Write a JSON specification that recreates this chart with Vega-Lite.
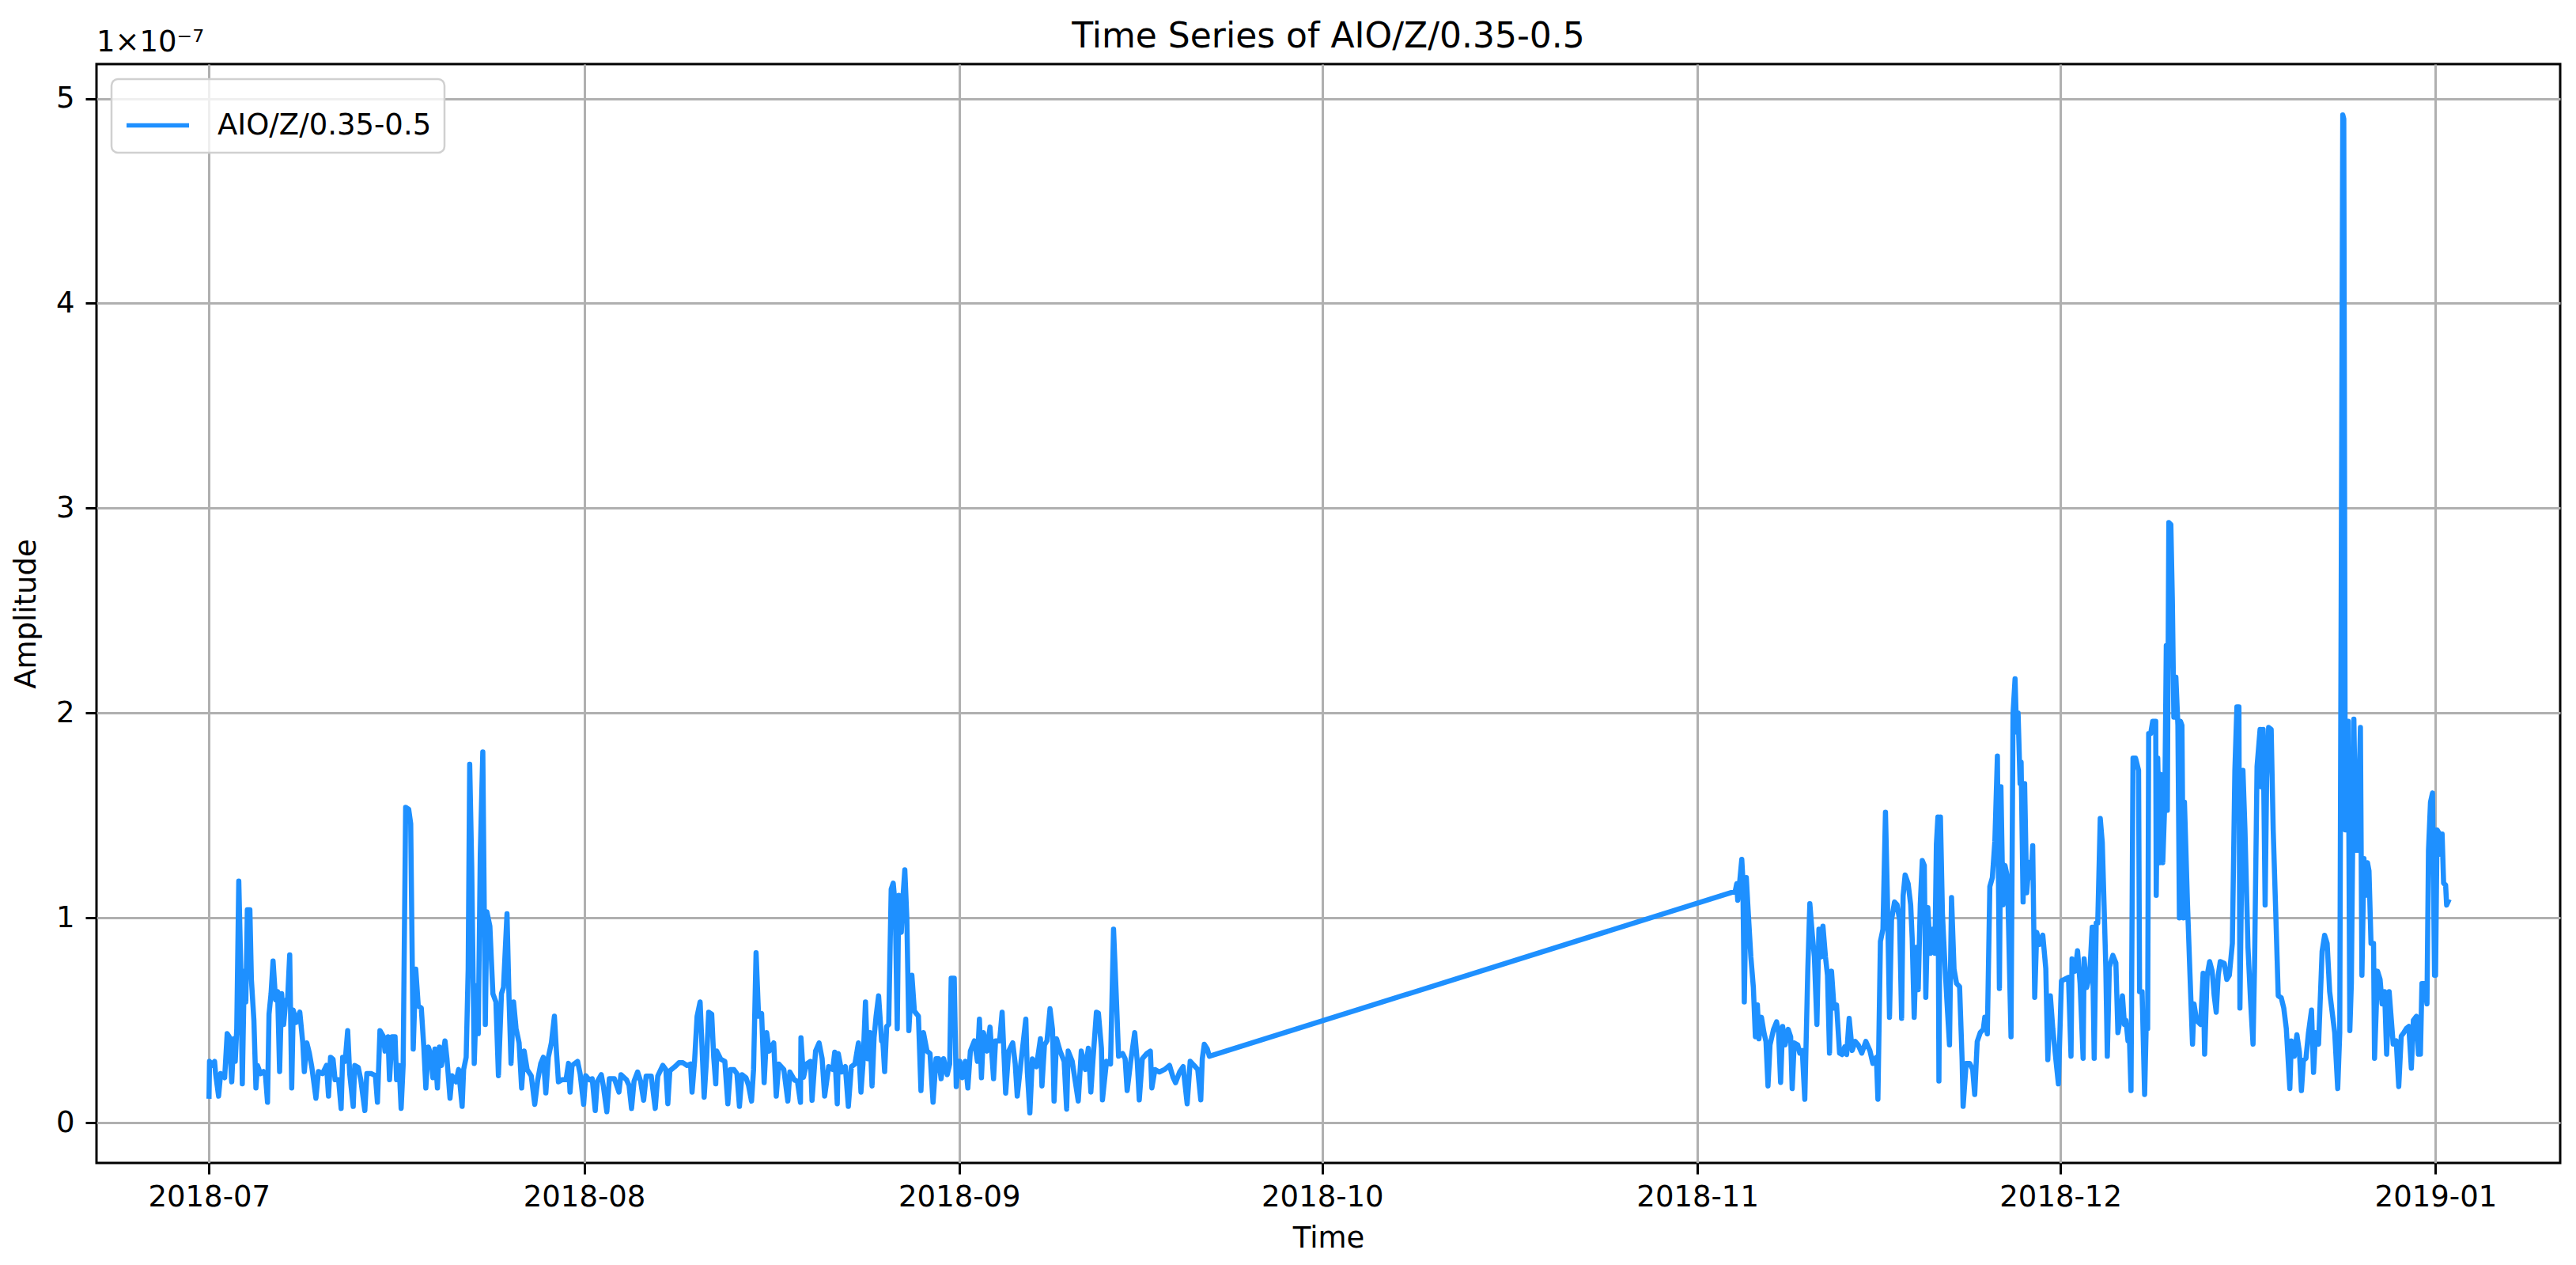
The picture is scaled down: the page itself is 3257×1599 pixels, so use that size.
{
  "$schema": "https://vega.github.io/schema/vega-lite/v6.json",
  "width": 3115,
  "height": 1389,
  "autosize": {"type": "none"},
  "padding": {"left": 122, "top": 81, "right": 20, "bottom": 129},
  "background": "white",
  "title": {"text": "Time Series of AIO/Z/0.35-0.5", "fontSize": 44, "fontWeight": "normal", "font": "DejaVu Sans", "color": "black", "anchor": "middle", "frame": "group", "baseline": "alphabetic", "offset": -69},
  "datasets": {
    "series": [
      {"time":"2018-07-01T00:00","amp":0.13},{"time":"2018-07-01T01:00","amp":0.30},{"time":"2018-07-01T05:00","amp":0.28},{"time":"2018-07-01T11:00","amp":0.30},{"time":"2018-07-01T13:00","amp":0.24},{"time":"2018-07-01T19:00","amp":0.13},{"time":"2018-07-01T23:00","amp":0.24},{"time":"2018-07-02T07:00","amp":0.22},{"time":"2018-07-02T12:00","amp":0.435},{"time":"2018-07-02T16:00","amp":0.42},{"time":"2018-07-02T21:00","amp":0.20},
      {"time":"2018-07-03T01:00","amp":0.41},{"time":"2018-07-03T04:00","amp":0.30},{"time":"2018-07-03T07:00","amp":0.46},{"time":"2018-07-03T11:00","amp":1.18},{"time":"2018-07-03T15:00","amp":0.75},{"time":"2018-07-03T18:00","amp":0.19},{"time":"2018-07-03T22:00","amp":0.74},{"time":"2018-07-04T01:00","amp":0.59},{"time":"2018-07-04T04:00","amp":1.04},{"time":"2018-07-04T09:00","amp":1.04},{"time":"2018-07-04T12:00","amp":0.70},{"time":"2018-07-04T17:00","amp":0.50},{"time":"2018-07-04T21:00","amp":0.17},
      {"time":"2018-07-05T00:00","amp":0.28},{"time":"2018-07-05T06:00","amp":0.24},{"time":"2018-07-05T12:00","amp":0.25},{"time":"2018-07-05T16:00","amp":0.23},{"time":"2018-07-05T20:00","amp":0.10},{"time":"2018-07-05T23:00","amp":0.53},{"time":"2018-07-06T03:00","amp":0.63},{"time":"2018-07-06T07:00","amp":0.79},{"time":"2018-07-06T12:00","amp":0.60},{"time":"2018-07-06T16:00","amp":0.64},{"time":"2018-07-06T20:00","amp":0.25},
      {"time":"2018-07-07T00:00","amp":0.63},{"time":"2018-07-07T04:00","amp":0.48},{"time":"2018-07-07T08:00","amp":0.59},{"time":"2018-07-07T12:00","amp":0.61},{"time":"2018-07-07T16:00","amp":0.82},{"time":"2018-07-07T20:00","amp":0.17},{"time":"2018-07-07T23:00","amp":0.55},{"time":"2018-07-08T05:00","amp":0.49},{"time":"2018-07-08T12:00","amp":0.54},{"time":"2018-07-08T18:00","amp":0.39},{"time":"2018-07-08T21:00","amp":0.25},
      {"time":"2018-07-09T02:00","amp":0.39},{"time":"2018-07-09T07:00","amp":0.34},{"time":"2018-07-09T12:00","amp":0.27},{"time":"2018-07-09T20:00","amp":0.12},{"time":"2018-07-10T01:00","amp":0.25},{"time":"2018-07-10T09:00","amp":0.24},{"time":"2018-07-10T17:00","amp":0.28},{"time":"2018-07-10T21:00","amp":0.13},{"time":"2018-07-11T01:00","amp":0.32},{"time":"2018-07-11T06:00","amp":0.31},{"time":"2018-07-11T10:00","amp":0.21},{"time":"2018-07-11T17:00","amp":0.21},{"time":"2018-07-11T22:00","amp":0.07},
      {"time":"2018-07-12T01:00","amp":0.32},{"time":"2018-07-12T06:00","amp":0.30},{"time":"2018-07-12T11:00","amp":0.45},{"time":"2018-07-12T15:00","amp":0.24},{"time":"2018-07-12T22:00","amp":0.08},{"time":"2018-07-13T01:00","amp":0.28},{"time":"2018-07-13T08:00","amp":0.27},{"time":"2018-07-13T13:00","amp":0.21},{"time":"2018-07-13T21:00","amp":0.06},{"time":"2018-07-14T01:00","amp":0.24},{"time":"2018-07-14T10:00","amp":0.24},{"time":"2018-07-14T18:00","amp":0.23},{"time":"2018-07-14T22:00","amp":0.10},
      {"time":"2018-07-15T03:00","amp":0.45},{"time":"2018-07-15T10:00","amp":0.42},{"time":"2018-07-15T13:00","amp":0.35},{"time":"2018-07-15T19:00","amp":0.42},{"time":"2018-07-15T22:00","amp":0.21},{"time":"2018-07-16T03:00","amp":0.42},{"time":"2018-07-16T09:00","amp":0.42},{"time":"2018-07-16T12:00","amp":0.21},{"time":"2018-07-16T17:00","amp":0.28},{"time":"2018-07-16T21:00","amp":0.07},
      {"time":"2018-07-17T01:00","amp":0.28},{"time":"2018-07-17T06:00","amp":1.54},{"time":"2018-07-17T12:00","amp":1.53},{"time":"2018-07-17T16:00","amp":1.46},{"time":"2018-07-17T21:00","amp":0.36},{"time":"2018-07-18T02:00","amp":0.75},{"time":"2018-07-18T07:00","amp":0.57},{"time":"2018-07-18T13:00","amp":0.56},{"time":"2018-07-18T18:00","amp":0.37},{"time":"2018-07-18T22:00","amp":0.17},
      {"time":"2018-07-19T03:00","amp":0.37},{"time":"2018-07-19T08:00","amp":0.33},{"time":"2018-07-19T12:00","amp":0.22},{"time":"2018-07-19T16:00","amp":0.36},{"time":"2018-07-19T21:00","amp":0.17},{"time":"2018-07-20T01:00","amp":0.37},{"time":"2018-07-20T05:00","amp":0.28},{"time":"2018-07-20T12:00","amp":0.40},{"time":"2018-07-20T16:00","amp":0.31},{"time":"2018-07-20T22:00","amp":0.12},
      {"time":"2018-07-21T02:00","amp":0.23},{"time":"2018-07-21T10:00","amp":0.20},{"time":"2018-07-21T15:00","amp":0.26},{"time":"2018-07-21T22:00","amp":0.08},{"time":"2018-07-22T01:00","amp":0.26},{"time":"2018-07-22T06:00","amp":0.32},{"time":"2018-07-22T10:00","amp":0.75},{"time":"2018-07-22T13:00","amp":1.75},{"time":"2018-07-22T17:00","amp":1.25},{"time":"2018-07-22T22:00","amp":0.29},
      {"time":"2018-07-23T03:00","amp":0.67},{"time":"2018-07-23T06:00","amp":0.435},{"time":"2018-07-23T10:00","amp":1.31},{"time":"2018-07-23T15:00","amp":1.81},{"time":"2018-07-23T20:00","amp":0.48},{"time":"2018-07-23T23:00","amp":1.03},{"time":"2018-07-24T05:00","amp":0.96},{"time":"2018-07-24T11:00","amp":0.63},{"time":"2018-07-24T17:00","amp":0.59},{"time":"2018-07-24T22:00","amp":0.23},
      {"time":"2018-07-25T04:00","amp":0.63},{"time":"2018-07-25T08:00","amp":0.66},{"time":"2018-07-25T15:00","amp":1.02},{"time":"2018-07-25T19:00","amp":0.61},{"time":"2018-07-25T23:00","amp":0.29},{"time":"2018-07-26T04:00","amp":0.59},{"time":"2018-07-26T09:00","amp":0.46},{"time":"2018-07-26T15:00","amp":0.39},{"time":"2018-07-26T20:00","amp":0.17},
      {"time":"2018-07-27T01:00","amp":0.35},{"time":"2018-07-27T07:00","amp":0.26},{"time":"2018-07-27T15:00","amp":0.23},{"time":"2018-07-27T22:00","amp":0.09},{"time":"2018-07-28T04:00","amp":0.21},{"time":"2018-07-28T10:00","amp":0.29},{"time":"2018-07-28T15:00","amp":0.32},{"time":"2018-07-28T20:00","amp":0.146},
      {"time":"2018-07-29T01:00","amp":0.32},{"time":"2018-07-29T07:00","amp":0.39},{"time":"2018-07-29T13:00","amp":0.52},{"time":"2018-07-29T17:00","amp":0.35},{"time":"2018-07-29T21:00","amp":0.20},{"time":"2018-07-30T04:00","amp":0.21},{"time":"2018-07-30T12:00","amp":0.21},{"time":"2018-07-30T17:00","amp":0.29},{"time":"2018-07-30T20:00","amp":0.15},
      {"time":"2018-07-31T00:00","amp":0.28},{"time":"2018-07-31T11:00","amp":0.30},{"time":"2018-07-31T16:00","amp":0.24},{"time":"2018-07-31T23:00","amp":0.09},{"time":"2018-08-01T03:00","amp":0.23},
      {"time":"2018-08-01T10:00","amp":0.21},{"time":"2018-08-01T16:00","amp":0.215},{"time":"2018-08-01T22:00","amp":0.06},{"time":"2018-08-02T02:00","amp":0.20},{"time":"2018-08-02T10:00","amp":0.235},{"time":"2018-08-02T14:00","amp":0.18},{"time":"2018-08-02T21:00","amp":0.054},{"time":"2018-08-03T02:00","amp":0.215},{"time":"2018-08-03T12:00","amp":0.215},{"time":"2018-08-03T21:00","amp":0.15},
      {"time":"2018-08-04T01:00","amp":0.235},{"time":"2018-08-04T12:00","amp":0.21},{"time":"2018-08-04T17:00","amp":0.183},{"time":"2018-08-04T22:00","amp":0.07},{"time":"2018-08-05T03:00","amp":0.203},{"time":"2018-08-05T10:00","amp":0.248},{"time":"2018-08-05T16:00","amp":0.203},{"time":"2018-08-05T22:00","amp":0.11},
      {"time":"2018-08-06T03:00","amp":0.228},{"time":"2018-08-06T13:00","amp":0.228},{"time":"2018-08-06T21:00","amp":0.07},{"time":"2018-08-07T02:00","amp":0.228},{"time":"2018-08-07T12:00","amp":0.28},{"time":"2018-08-07T18:00","amp":0.26},{"time":"2018-08-07T22:00","amp":0.093},
      {"time":"2018-08-08T02:00","amp":0.254},{"time":"2018-08-08T12:00","amp":0.274},{"time":"2018-08-08T20:00","amp":0.293},{"time":"2018-08-09T04:00","amp":0.293},{"time":"2018-08-09T12:00","amp":0.28},{"time":"2018-08-09T19:00","amp":0.287},{"time":"2018-08-09T22:00","amp":0.15},
      {"time":"2018-08-10T03:00","amp":0.30},{"time":"2018-08-10T08:00","amp":0.52},{"time":"2018-08-10T14:00","amp":0.59},{"time":"2018-08-10T19:00","amp":0.30},{"time":"2018-08-10T22:00","amp":0.125},{"time":"2018-08-11T03:00","amp":0.32},{"time":"2018-08-11T07:00","amp":0.54},{"time":"2018-08-11T13:00","amp":0.53},{"time":"2018-08-11T17:00","amp":0.32},{"time":"2018-08-11T21:00","amp":0.19},{"time":"2018-08-11T23:00","amp":0.35},
      {"time":"2018-08-12T07:00","amp":0.31},{"time":"2018-08-12T15:00","amp":0.30},{"time":"2018-08-12T21:00","amp":0.093},{"time":"2018-08-13T02:00","amp":0.26},{"time":"2018-08-13T09:00","amp":0.26},{"time":"2018-08-13T15:00","amp":0.24},{"time":"2018-08-13T20:00","amp":0.08},
      {"time":"2018-08-14T01:00","amp":0.235},{"time":"2018-08-14T09:00","amp":0.22},{"time":"2018-08-14T14:00","amp":0.183},{"time":"2018-08-14T20:00","amp":0.106},{"time":"2018-08-15T00:00","amp":0.26},{"time":"2018-08-15T05:00","amp":0.83},{"time":"2018-08-15T10:00","amp":0.52},{"time":"2018-08-15T16:00","amp":0.533},{"time":"2018-08-15T21:00","amp":0.196},
      {"time":"2018-08-16T02:00","amp":0.44},{"time":"2018-08-16T07:00","amp":0.35},{"time":"2018-08-16T16:00","amp":0.39},{"time":"2018-08-16T21:00","amp":0.13},{"time":"2018-08-17T02:00","amp":0.287},{"time":"2018-08-17T12:00","amp":0.26},{"time":"2018-08-17T20:00","amp":0.106},
      {"time":"2018-08-18T00:00","amp":0.248},{"time":"2018-08-18T09:00","amp":0.209},{"time":"2018-08-18T15:00","amp":0.203},{"time":"2018-08-18T21:00","amp":0.10},{"time":"2018-08-18T22:00","amp":0.415},{"time":"2018-08-19T03:00","amp":0.222},{"time":"2018-08-19T09:00","amp":0.287},{"time":"2018-08-19T17:00","amp":0.30},{"time":"2018-08-19T20:00","amp":0.11},
      {"time":"2018-08-20T03:00","amp":0.35},{"time":"2018-08-20T10:00","amp":0.39},{"time":"2018-08-20T16:00","amp":0.313},{"time":"2018-08-20T21:00","amp":0.13},{"time":"2018-08-21T05:00","amp":0.274},{"time":"2018-08-21T13:00","amp":0.26},{"time":"2018-08-21T17:00","amp":0.345},{"time":"2018-08-21T22:00","amp":0.093},
      {"time":"2018-08-22T00:00","amp":0.338},{"time":"2018-08-22T07:00","amp":0.248},{"time":"2018-08-22T14:00","amp":0.274},{"time":"2018-08-22T20:00","amp":0.08},{"time":"2018-08-23T02:00","amp":0.274},{"time":"2018-08-23T09:00","amp":0.287},{"time":"2018-08-23T16:00","amp":0.39},{"time":"2018-08-23T21:00","amp":0.15},
      {"time":"2018-08-24T01:00","amp":0.287},{"time":"2018-08-24T06:00","amp":0.59},{"time":"2018-08-24T10:00","amp":0.313},{"time":"2018-08-24T15:00","amp":0.44},{"time":"2018-08-24T19:00","amp":0.18},{"time":"2018-08-24T23:00","amp":0.415},
      {"time":"2018-08-25T03:00","amp":0.52},{"time":"2018-08-25T08:00","amp":0.62},{"time":"2018-08-25T14:00","amp":0.40},{"time":"2018-08-25T16:00","amp":0.415},{"time":"2018-08-25T20:00","amp":0.25},
      {"time":"2018-08-26T00:00","amp":0.47},{"time":"2018-08-26T04:00","amp":0.48},{"time":"2018-08-26T09:00","amp":1.14},{"time":"2018-08-26T13:00","amp":1.17},{"time":"2018-08-26T17:00","amp":1.06},{"time":"2018-08-26T21:00","amp":0.46},
      {"time":"2018-08-27T00:00","amp":1.11},{"time":"2018-08-27T05:00","amp":0.93},{"time":"2018-08-27T09:00","amp":1.125},{"time":"2018-08-27T12:00","amp":1.235},{"time":"2018-08-27T16:00","amp":1.0},{"time":"2018-08-27T20:00","amp":0.45},
      {"time":"2018-08-28T02:00","amp":0.72},{"time":"2018-08-28T07:00","amp":0.545},{"time":"2018-08-28T15:00","amp":0.52},{"time":"2018-08-28T20:00","amp":0.157},{"time":"2018-08-29T01:00","amp":0.44},{"time":"2018-08-29T08:00","amp":0.35},{"time":"2018-08-29T14:00","amp":0.338},{"time":"2018-08-29T20:00","amp":0.10},
      {"time":"2018-08-30T02:00","amp":0.313},{"time":"2018-08-30T07:00","amp":0.313},{"time":"2018-08-30T12:00","amp":0.215},{"time":"2018-08-30T17:00","amp":0.313},{"time":"2018-08-31T00:00","amp":0.235},{"time":"2018-08-31T05:00","amp":0.287},{"time":"2018-08-31T08:00","amp":0.706},{"time":"2018-08-31T14:00","amp":0.706},{"time":"2018-08-31T18:00","amp":0.177},{"time":"2018-08-31T23:00","amp":0.30},
      {"time":"2018-09-01T01:00","amp":0.30},{"time":"2018-09-01T06:00","amp":0.22},{"time":"2018-09-01T12:00","amp":0.30},{"time":"2018-09-01T17:00","amp":0.17},{"time":"2018-09-01T22:00","amp":0.35},{"time":"2018-09-02T06:00","amp":0.40},{"time":"2018-09-02T12:00","amp":0.30},{"time":"2018-09-02T16:00","amp":0.506},{"time":"2018-09-02T20:00","amp":0.22},
      {"time":"2018-09-03T00:00","amp":0.44},{"time":"2018-09-03T07:00","amp":0.35},{"time":"2018-09-03T13:00","amp":0.467},{"time":"2018-09-03T20:00","amp":0.215},{"time":"2018-09-04T00:00","amp":0.40},{"time":"2018-09-04T08:00","amp":0.40},{"time":"2018-09-04T13:00","amp":0.54},{"time":"2018-09-04T20:00","amp":0.145},
      {"time":"2018-09-05T02:00","amp":0.35},{"time":"2018-09-05T10:00","amp":0.39},{"time":"2018-09-05T15:00","amp":0.287},{"time":"2018-09-05T19:00","amp":0.13},{"time":"2018-09-06T02:00","amp":0.287},{"time":"2018-09-06T12:00","amp":0.506},{"time":"2018-09-06T15:00","amp":0.248},{"time":"2018-09-06T20:00","amp":0.048},
      {"time":"2018-09-07T01:00","amp":0.312},{"time":"2018-09-07T09:00","amp":0.274},{"time":"2018-09-07T17:00","amp":0.41},{"time":"2018-09-07T20:00","amp":0.18},{"time":"2018-09-08T01:00","amp":0.38},{"time":"2018-09-08T06:00","amp":0.40},{"time":"2018-09-08T12:00","amp":0.557},{"time":"2018-09-08T17:00","amp":0.454},{"time":"2018-09-08T20:00","amp":0.106},
      {"time":"2018-09-09T01:00","amp":0.41},{"time":"2018-09-09T08:00","amp":0.35},{"time":"2018-09-09T16:00","amp":0.30},{"time":"2018-09-09T21:00","amp":0.067},{"time":"2018-09-10T00:00","amp":0.35},{"time":"2018-09-10T08:00","amp":0.30},{"time":"2018-09-10T20:00","amp":0.106},
      {"time":"2018-09-11T02:00","amp":0.35},{"time":"2018-09-11T10:00","amp":0.26},{"time":"2018-09-11T16:00","amp":0.364},{"time":"2018-09-11T21:00","amp":0.15},{"time":"2018-09-12T01:00","amp":0.30},{"time":"2018-09-12T08:00","amp":0.54},{"time":"2018-09-12T12:00","amp":0.535},{"time":"2018-09-12T18:00","amp":0.364},{"time":"2018-09-12T20:00","amp":0.112},
      {"time":"2018-09-13T04:00","amp":0.30},{"time":"2018-09-13T12:00","amp":0.287},{"time":"2018-09-13T18:00","amp":0.945},{"time":"2018-09-14T00:00","amp":0.583},{"time":"2018-09-14T04:00","amp":0.325},{"time":"2018-09-14T12:00","amp":0.338},{"time":"2018-09-14T17:00","amp":0.312},{"time":"2018-09-14T21:00","amp":0.157},
      {"time":"2018-09-15T04:00","amp":0.30},{"time":"2018-09-15T12:00","amp":0.44},{"time":"2018-09-15T17:00","amp":0.30},{"time":"2018-09-15T21:00","amp":0.112},{"time":"2018-09-16T03:00","amp":0.312},{"time":"2018-09-16T12:00","amp":0.338},{"time":"2018-09-16T19:00","amp":0.35},{"time":"2018-09-16T22:00","amp":0.17},
      {"time":"2018-09-17T04:00","amp":0.26},{"time":"2018-09-17T13:00","amp":0.248},{"time":"2018-09-17T23:00","amp":0.26},{"time":"2018-09-18T09:00","amp":0.28},{"time":"2018-09-18T16:00","amp":0.222},{"time":"2018-09-18T21:00","amp":0.196},
      {"time":"2018-09-19T05:00","amp":0.248},{"time":"2018-09-19T12:00","amp":0.274},{"time":"2018-09-19T20:00","amp":0.093},{"time":"2018-09-20T02:00","amp":0.30},{"time":"2018-09-20T07:00","amp":0.287},{"time":"2018-09-20T12:00","amp":0.274},{"time":"2018-09-20T17:00","amp":0.26},{"time":"2018-09-20T23:00","amp":0.112},
      {"time":"2018-09-21T02:00","amp":0.312},{"time":"2018-09-21T06:00","amp":0.383},{"time":"2018-09-21T12:00","amp":0.36},{"time":"2018-09-21T16:00","amp":0.325},
      {"time":"2018-11-04T03:00","amp":1.13},{"time":"2018-11-04T06:00","amp":1.167},{"time":"2018-11-04T08:00","amp":1.086},{"time":"2018-11-04T12:00","amp":1.18},{"time":"2018-11-04T16:00","amp":1.286},{"time":"2018-11-04T18:00","amp":1.197},{"time":"2018-11-04T21:00","amp":0.59},
      {"time":"2018-11-05T01:00","amp":1.197},{"time":"2018-11-05T05:00","amp":1.02},{"time":"2018-11-05T10:00","amp":0.81},{"time":"2018-11-05T15:00","amp":0.66},{"time":"2018-11-05T19:00","amp":0.42},{"time":"2018-11-05T23:00","amp":0.575},
      {"time":"2018-11-06T02:00","amp":0.41},{"time":"2018-11-06T07:00","amp":0.515},{"time":"2018-11-06T12:00","amp":0.44},{"time":"2018-11-06T16:00","amp":0.397},{"time":"2018-11-06T20:00","amp":0.18},{"time":"2018-11-07T00:00","amp":0.38},{"time":"2018-11-07T07:00","amp":0.456},{"time":"2018-11-07T13:00","amp":0.493},{"time":"2018-11-07T17:00","amp":0.44},{"time":"2018-11-07T21:00","amp":0.197},
      {"time":"2018-11-08T01:00","amp":0.47},{"time":"2018-11-08T06:00","amp":0.38},{"time":"2018-11-08T12:00","amp":0.456},{"time":"2018-11-08T17:00","amp":0.42},{"time":"2018-11-08T20:00","amp":0.167},{"time":"2018-11-09T00:00","amp":0.39},{"time":"2018-11-09T07:00","amp":0.38},{"time":"2018-11-09T11:00","amp":0.34},{"time":"2018-11-09T16:00","amp":0.353},{"time":"2018-11-09T21:00","amp":0.115},
      {"time":"2018-11-10T03:00","amp":0.75},{"time":"2018-11-10T07:00","amp":1.07},{"time":"2018-11-10T12:00","amp":0.915},{"time":"2018-11-10T16:00","amp":0.81},{"time":"2018-11-10T21:00","amp":0.48},{"time":"2018-11-11T01:00","amp":0.945},{"time":"2018-11-11T05:00","amp":0.81},{"time":"2018-11-11T09:00","amp":0.96},{"time":"2018-11-11T14:00","amp":0.81},{"time":"2018-11-11T18:00","amp":0.72},{"time":"2018-11-11T22:00","amp":0.34},
      {"time":"2018-11-12T02:00","amp":0.74},{"time":"2018-11-12T07:00","amp":0.56},{"time":"2018-11-12T12:00","amp":0.575},{"time":"2018-11-12T18:00","amp":0.34},{"time":"2018-11-12T23:00","amp":0.333},{"time":"2018-11-13T04:00","amp":0.37},{"time":"2018-11-13T08:00","amp":0.333},{"time":"2018-11-13T13:00","amp":0.51},{"time":"2018-11-13T19:00","amp":0.353},
      {"time":"2018-11-14T01:00","amp":0.397},{"time":"2018-11-14T07:00","amp":0.38},{"time":"2018-11-14T14:00","amp":0.34},{"time":"2018-11-14T22:00","amp":0.397},{"time":"2018-11-15T06:00","amp":0.353},{"time":"2018-11-15T12:00","amp":0.29},{"time":"2018-11-15T19:00","amp":0.32},{"time":"2018-11-15T22:00","amp":0.115},
      {"time":"2018-11-16T03:00","amp":0.886},{"time":"2018-11-16T08:00","amp":0.945},{"time":"2018-11-16T13:00","amp":1.516},{"time":"2018-11-16T17:00","amp":1.078},{"time":"2018-11-16T21:00","amp":0.515},{"time":"2018-11-17T01:00","amp":0.99},{"time":"2018-11-17T07:00","amp":1.078},{"time":"2018-11-17T12:00","amp":1.064},{"time":"2018-11-17T17:00","amp":0.99},{"time":"2018-11-17T21:00","amp":0.51},
      {"time":"2018-11-18T00:00","amp":1.108},{"time":"2018-11-18T04:00","amp":1.21},{"time":"2018-11-18T10:00","amp":1.167},{"time":"2018-11-18T15:00","amp":1.064},{"time":"2018-11-18T18:00","amp":0.90},{"time":"2018-11-18T22:00","amp":0.515},
      {"time":"2018-11-19T02:00","amp":0.856},{"time":"2018-11-19T06:00","amp":0.65},{"time":"2018-11-19T10:00","amp":1.064},{"time":"2018-11-19T14:00","amp":1.28},{"time":"2018-11-19T18:00","amp":1.256},{"time":"2018-11-19T21:00","amp":0.612},
      {"time":"2018-11-20T01:00","amp":1.05},{"time":"2018-11-20T06:00","amp":0.827},{"time":"2018-11-20T11:00","amp":0.945},{"time":"2018-11-20T15:00","amp":0.827},{"time":"2018-11-20T18:00","amp":1.36},{"time":"2018-11-20T21:00","amp":1.493},{"time":"2018-11-20T23:00","amp":0.204},
      {"time":"2018-11-21T02:00","amp":1.493},{"time":"2018-11-21T06:00","amp":1.02},{"time":"2018-11-21T11:00","amp":0.767},{"time":"2018-11-21T15:00","amp":0.59},{"time":"2018-11-21T20:00","amp":0.38},
      {"time":"2018-11-22T00:00","amp":1.10},{"time":"2018-11-22T05:00","amp":0.75},{"time":"2018-11-22T10:00","amp":0.68},{"time":"2018-11-22T16:00","amp":0.664},{"time":"2018-11-22T21:00","amp":0.308},{"time":"2018-11-22T23:00","amp":0.08},
      {"time":"2018-11-23T05:00","amp":0.29},{"time":"2018-11-23T12:00","amp":0.29},{"time":"2018-11-23T18:00","amp":0.26},{"time":"2018-11-23T22:00","amp":0.138},{"time":"2018-11-24T03:00","amp":0.397},{"time":"2018-11-24T09:00","amp":0.44},{"time":"2018-11-24T15:00","amp":0.456},{"time":"2018-11-24T18:00","amp":0.515},{"time":"2018-11-24T23:00","amp":0.434},
      {"time":"2018-11-25T04:00","amp":1.153},{"time":"2018-11-25T09:00","amp":1.197},{"time":"2018-11-25T14:00","amp":1.375},{"time":"2018-11-25T19:00","amp":1.79},{"time":"2018-11-25T23:00","amp":0.656},
      {"time":"2018-11-26T02:00","amp":1.64},{"time":"2018-11-26T06:00","amp":1.064},{"time":"2018-11-26T10:00","amp":1.256},{"time":"2018-11-26T15:00","amp":1.197},{"time":"2018-11-26T22:00","amp":0.42},
      {"time":"2018-11-27T02:00","amp":1.997},{"time":"2018-11-27T06:00","amp":2.167},{"time":"2018-11-27T09:00","amp":1.908},{"time":"2018-11-27T12:00","amp":2.0},{"time":"2018-11-27T16:00","amp":1.656},{"time":"2018-11-27T18:00","amp":1.76},{"time":"2018-11-27T22:00","amp":1.078},
      {"time":"2018-11-28T01:00","amp":1.656},{"time":"2018-11-28T05:00","amp":1.123},{"time":"2018-11-28T10:00","amp":1.271},{"time":"2018-11-28T14:00","amp":1.197},{"time":"2018-11-28T17:00","amp":1.353},{"time":"2018-11-28T21:00","amp":0.612},
      {"time":"2018-11-29T01:00","amp":0.93},{"time":"2018-11-29T07:00","amp":0.871},{"time":"2018-11-29T13:00","amp":0.916},{"time":"2018-11-29T19:00","amp":0.753},{"time":"2018-11-29T23:00","amp":0.308},
      {"time":"2018-11-30T04:00","amp":0.62},{"time":"2018-11-30T09:00","amp":0.456},{"time":"2018-11-30T15:00","amp":0.308},{"time":"2018-11-30T20:00","amp":0.19},{"time":"2018-12-01T02:00","amp":0.693},
      {"time":"2018-12-01T08:00","amp":0.70},{"time":"2018-12-01T16:00","amp":0.71},{"time":"2018-12-01T21:00","amp":0.325},{"time":"2018-12-01T23:00","amp":0.80},{"time":"2018-12-02T05:00","amp":0.74},{"time":"2018-12-02T10:00","amp":0.84},{"time":"2018-12-02T15:00","amp":0.68},{"time":"2018-12-02T21:00","amp":0.315},{"time":"2018-12-02T23:00","amp":0.80},
      {"time":"2018-12-03T04:00","amp":0.66},{"time":"2018-12-03T10:00","amp":0.72},{"time":"2018-12-03T15:00","amp":0.955},{"time":"2018-12-03T19:00","amp":0.315},{"time":"2018-12-03T23:00","amp":0.975},
      {"time":"2018-12-04T02:00","amp":0.975},{"time":"2018-12-04T07:00","amp":1.486},{"time":"2018-12-04T11:00","amp":1.368},{"time":"2018-12-04T14:00","amp":1.11},{"time":"2018-12-04T18:00","amp":0.76},{"time":"2018-12-04T21:00","amp":0.325},
      {"time":"2018-12-05T01:00","amp":0.76},{"time":"2018-12-05T08:00","amp":0.817},{"time":"2018-12-05T14:00","amp":0.78},{"time":"2018-12-05T18:00","amp":0.44},{"time":"2018-12-05T22:00","amp":0.50},
      {"time":"2018-12-06T03:00","amp":0.62},{"time":"2018-12-06T07:00","amp":0.48},{"time":"2018-12-06T10:00","amp":0.50},{"time":"2018-12-06T14:00","amp":0.40},{"time":"2018-12-06T17:00","amp":0.40},{"time":"2018-12-06T20:00","amp":0.157},
      {"time":"2018-12-07T00:00","amp":1.78},{"time":"2018-12-07T05:00","amp":1.78},{"time":"2018-12-07T11:00","amp":1.72},{"time":"2018-12-07T13:00","amp":0.64},{"time":"2018-12-07T18:00","amp":0.64},{"time":"2018-12-07T23:00","amp":0.138},
      {"time":"2018-12-08T02:00","amp":0.46},{"time":"2018-12-08T05:00","amp":0.46},{"time":"2018-12-08T07:00","amp":1.90},{"time":"2018-12-08T11:00","amp":1.90},{"time":"2018-12-08T15:00","amp":1.96},{"time":"2018-12-08T21:00","amp":1.96},{"time":"2018-12-08T22:00","amp":1.11},
      {"time":"2018-12-09T01:00","amp":1.78},{"time":"2018-12-09T05:00","amp":1.27},{"time":"2018-12-09T07:00","amp":1.70},{"time":"2018-12-09T11:00","amp":1.27},{"time":"2018-12-09T15:00","amp":1.565},{"time":"2018-12-09T18:00","amp":2.33},{"time":"2018-12-09T20:00","amp":1.525},{"time":"2018-12-09T23:00","amp":2.93},
      {"time":"2018-12-10T03:00","amp":2.92},{"time":"2018-12-10T06:00","amp":2.55},{"time":"2018-12-10T09:00","amp":1.98},{"time":"2018-12-10T13:00","amp":2.175},{"time":"2018-12-10T17:00","amp":1.94},{"time":"2018-12-10T20:00","amp":1.0},{"time":"2018-12-10T22:00","amp":1.96},
      {"time":"2018-12-11T01:00","amp":1.94},{"time":"2018-12-11T04:00","amp":1.0},{"time":"2018-12-11T06:00","amp":1.565},{"time":"2018-12-11T12:00","amp":1.07},{"time":"2018-12-11T17:00","amp":0.72},{"time":"2018-12-11T22:00","amp":0.384},
      {"time":"2018-12-12T01:00","amp":0.58},{"time":"2018-12-12T06:00","amp":0.50},{"time":"2018-12-12T14:00","amp":0.48},{"time":"2018-12-12T19:00","amp":0.73},{"time":"2018-12-12T22:00","amp":0.335},
      {"time":"2018-12-13T03:00","amp":0.72},{"time":"2018-12-13T08:00","amp":0.787},{"time":"2018-12-13T13:00","amp":0.74},{"time":"2018-12-13T17:00","amp":0.62},{"time":"2018-12-13T21:00","amp":0.54},
      {"time":"2018-12-14T01:00","amp":0.72},{"time":"2018-12-14T05:00","amp":0.787},{"time":"2018-12-14T13:00","amp":0.778},{"time":"2018-12-14T18:00","amp":0.70},{"time":"2018-12-14T23:00","amp":0.72},
      {"time":"2018-12-15T05:00","amp":0.876},{"time":"2018-12-15T10:00","amp":1.72},{"time":"2018-12-15T14:00","amp":2.03},{"time":"2018-12-15T18:00","amp":2.03},{"time":"2018-12-15T20:00","amp":0.56},
      {"time":"2018-12-16T02:00","amp":1.72},{"time":"2018-12-16T06:00","amp":1.43},{"time":"2018-12-16T12:00","amp":0.856},{"time":"2018-12-16T17:00","amp":0.60},{"time":"2018-12-16T22:00","amp":0.384},
      {"time":"2018-12-17T01:00","amp":0.76},{"time":"2018-12-17T06:00","amp":1.74},{"time":"2018-12-17T12:00","amp":1.92},{"time":"2018-12-17T15:00","amp":1.64},{"time":"2018-12-17T18:00","amp":1.92},{"time":"2018-12-17T22:00","amp":1.063},
      {"time":"2018-12-18T01:00","amp":1.68},{"time":"2018-12-18T05:00","amp":1.93},{"time":"2018-12-18T10:00","amp":1.92},{"time":"2018-12-18T14:00","amp":1.43},{"time":"2018-12-18T19:00","amp":1.03},
      {"time":"2018-12-19T00:00","amp":0.62},{"time":"2018-12-19T06:00","amp":0.61},{"time":"2018-12-19T11:00","amp":0.56},{"time":"2018-12-19T16:00","amp":0.46},{"time":"2018-12-19T23:00","amp":0.167},
      {"time":"2018-12-20T02:00","amp":0.40},{"time":"2018-12-20T08:00","amp":0.325},{"time":"2018-12-20T13:00","amp":0.43},{"time":"2018-12-20T18:00","amp":0.345},{"time":"2018-12-20T22:00","amp":0.157},
      {"time":"2018-12-21T02:00","amp":0.305},{"time":"2018-12-21T07:00","amp":0.315},{"time":"2018-12-21T12:00","amp":0.44},{"time":"2018-12-21T18:00","amp":0.55},{"time":"2018-12-21T22:00","amp":0.246},
      {"time":"2018-12-22T02:00","amp":0.44},{"time":"2018-12-22T08:00","amp":0.384},{"time":"2018-12-22T15:00","amp":0.837},{"time":"2018-12-22T20:00","amp":0.915},
      {"time":"2018-12-23T01:00","amp":0.876},{"time":"2018-12-23T06:00","amp":0.64},{"time":"2018-12-23T12:00","amp":0.52},{"time":"2018-12-23T16:00","amp":0.44},{"time":"2018-12-23T22:00","amp":0.167},
      {"time":"2018-12-24T02:00","amp":0.44},{"time":"2018-12-24T08:00","amp":4.92},{"time":"2018-12-24T10:00","amp":4.90},{"time":"2018-12-24T13:00","amp":1.43},{"time":"2018-12-24T17:00","amp":1.96},{"time":"2018-12-24T19:00","amp":1.96},{"time":"2018-12-24T22:00","amp":0.45},
      {"time":"2018-12-25T01:00","amp":0.68},{"time":"2018-12-25T06:00","amp":1.97},{"time":"2018-12-25T10:00","amp":1.33},{"time":"2018-12-25T13:00","amp":1.33},{"time":"2018-12-25T19:00","amp":1.93},{"time":"2018-12-25T22:00","amp":0.72},
      {"time":"2018-12-26T02:00","amp":1.29},{"time":"2018-12-26T05:00","amp":1.11},{"time":"2018-12-26T09:00","amp":1.27},{"time":"2018-12-26T12:00","amp":1.23},{"time":"2018-12-26T16:00","amp":0.876},{"time":"2018-12-26T21:00","amp":0.876},{"time":"2018-12-26T23:00","amp":0.315},
      {"time":"2018-12-27T05:00","amp":0.74},{"time":"2018-12-27T10:00","amp":0.70},{"time":"2018-12-27T14:00","amp":0.58},{"time":"2018-12-27T19:00","amp":0.64},{"time":"2018-12-27T23:00","amp":0.335},
      {"time":"2018-12-28T04:00","amp":0.64},{"time":"2018-12-28T12:00","amp":0.384},{"time":"2018-12-28T18:00","amp":0.40},{"time":"2018-12-28T23:00","amp":0.177},
      {"time":"2018-12-29T04:00","amp":0.423},{"time":"2018-12-29T09:00","amp":0.44},{"time":"2018-12-29T14:00","amp":0.46},{"time":"2018-12-29T19:00","amp":0.47},
      {"time":"2018-12-30T00:00","amp":0.266},{"time":"2018-12-30T04:00","amp":0.50},{"time":"2018-12-30T10:00","amp":0.52},{"time":"2018-12-30T14:00","amp":0.335},{"time":"2018-12-30T18:00","amp":0.335},{"time":"2018-12-30T21:00","amp":0.68},
      {"time":"2018-12-31T02:00","amp":0.68},{"time":"2018-12-31T07:00","amp":0.58},{"time":"2018-12-31T10:00","amp":1.33},{"time":"2018-12-31T14:00","amp":1.565},{"time":"2018-12-31T18:00","amp":1.61},{"time":"2018-12-31T22:00","amp":0.72},
      {"time":"2019-01-01T00:00","amp":0.72},{"time":"2019-01-01T03:00","amp":1.43},{"time":"2019-01-01T08:00","amp":1.41},{"time":"2019-01-01T11:00","amp":1.31},{"time":"2019-01-01T13:00","amp":1.41},{"time":"2019-01-01T16:00","amp":1.17},{"time":"2019-01-01T20:00","amp":1.16},{"time":"2019-01-01T22:00","amp":1.063},{"time":"2019-01-02T01:00","amp":1.08}
    ],
    "offset": [{"label": "1×10⁻⁷"}]
  },
  "layer": [
    {
      "data": {"name": "series"},
      "mark": {"type": "line", "strokeWidth": 6.5, "strokeJoin": "round", "strokeCap": "square"},
      "encoding": {
        "x": {
          "field": "time", "type": "temporal",
          "scale": {"domain": [{"year": 2018, "month": 6, "date": 21, "hours": 16, "minutes": 48}, {"year": 2019, "month": 1, "date": 11, "hours": 7, "minutes": 12}]},
          "axis": {
            "title": "Time", "format": "%Y-%m",
            "values": [{"year": 2018, "month": 7, "date": 1}, {"year": 2018, "month": 8, "date": 1}, {"year": 2018, "month": 9, "date": 1}, {"year": 2018, "month": 10, "date": 1}, {"year": 2018, "month": 11, "date": 1}, {"year": 2018, "month": 12, "date": 1}, {"year": 2019, "month": 1, "date": 1}]
          }
        },
        "y": {
          "field": "amp", "type": "quantitative",
          "scale": {"domain": [-0.196, 5.168], "nice": false, "zero": false},
          "axis": {"title": "Amplitude", "values": [0, 1, 2, 3, 4, 5], "format": "d"}
        },
        "color": {
          "datum": "AIO/Z/0.35-0.5",
          "scale": {"range": ["#1E90FF"]},
          "legend": {"title": null}
        }
      }
    },
    {
      "data": {"name": "offset"},
      "mark": {"type": "text", "align": "left", "baseline": "alphabetic", "fontSize": 37, "font": "DejaVu Sans", "color": "black"},
      "encoding": {
        "x": {"datum": {"year": 2018, "month": 6, "date": 21, "hours": 16, "minutes": 48}, "type": "temporal"},
        "y": {"datum": 5.23, "type": "quantitative"},
        "text": {"field": "label"}
      }
    }
  ],
  "config": {
    "font": "DejaVu Sans",
    "view": {"stroke": "black", "strokeWidth": 3},
    "axis": {
      "domain": false, "grid": true, "gridColor": "#b0b0b0", "gridWidth": 3, "gridOpacity": 1,
      "tickColor": "black", "tickWidth": 3, "tickSize": 14,
      "labelFont": "DejaVu Sans", "labelFontSize": 37, "labelColor": "black",
      "titleFont": "DejaVu Sans", "titleFontSize": 37, "titleFontWeight": "normal", "titleColor": "black",
      "labelOverlap": false, "labelFlush": false
    },
    "axisX": {"labelPadding": 11, "titlePadding": 16},
    "axisY": {"labelPadding": 14, "titlePadding": 18},
    "legend": {
      "orient": "top-left", "offset": 19, "padding": 16, "cornerRadius": 8,
      "fillColor": "rgba(255,255,255,0.8)", "strokeColor": "#d0d0d0", "strokeWidth": 2.5,
      "symbolType": "stroke", "symbolSize": 6241, "symbolStrokeWidth": 5.5,
      "labelFont": "DejaVu Sans", "labelFontSize": 37, "labelColor": "black", "labelOffset": 33, "labelLimit": 1000
    }
  }
}
